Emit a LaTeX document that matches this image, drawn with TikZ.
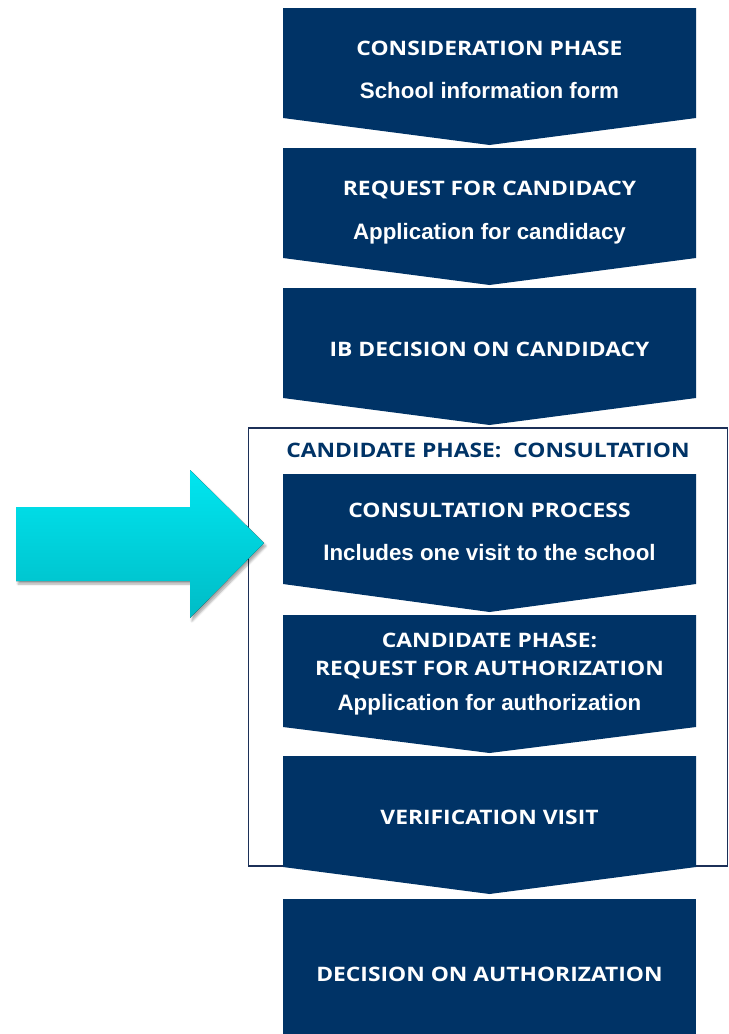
\documentclass[tikz,border=0pt]{standalone}
\usepackage{fontspec}
\setmainfont{Liberation Sans}
\newfontfamily\capsfont[FakeStretch=1.145]{Open Sans}
\usetikzlibrary{shadows.blur}
\definecolor{navy}{RGB}{0,51,102}
\definecolor{framecol}{RGB}{28,48,88}
\definecolor{cyantop}{RGB}{0,230,240}
\definecolor{cyanbot}{RGB}{0,188,198}
% chevron-shaped step: top edge, side bottom, point
\newcommand\chevbox[3]{\fill[navy] (283,#1) -- (696,#1) -- (696,#2) -- (489.5,#3) -- (283,#2) -- cycle;}
\begin{document}
\begin{tikzpicture}[x=1bp,y=-1bp,
  head/.style={font=\capsfont\bfseries\fontsize{20}{24}\selectfont, text=white, inner sep=0pt, anchor=base},
  sub/.style={font=\bfseries\fontsize{22.4}{26}\selectfont, text=white, inner sep=0pt, anchor=base},
  title/.style={font=\capsfont\bfseries\fontsize{20}{24}\selectfont, text=navy, inner sep=0pt, anchor=base}]
\useasboundingbox (0,0) rectangle (729,1034);

% frame around the candidate phase
\draw[framecol, line width=1.2bp] (248.5,428) rectangle (727.8,866);

% steps
\chevbox{8}{118}{145}
\chevbox{148}{258}{285}
\chevbox{288}{398}{425}
\chevbox{474}{584}{612}
\chevbox{615}{727}{753}
\chevbox{756}{867}{894}
\fill[navy] (283,899) rectangle (696,1034);

% labels
\node[head] (c1) at (489.5,55) {CONSIDERATION PHASE};
\node[sub]  (s1) at (489.5,98.5) {School information form};
\node[head] (c2) at (489.5,195.5) {REQUEST FOR CANDIDACY};
\node[sub]  (s2) at (489.5,239.5) {Application for candidacy};
\node[head] (c3) at (489.5,356) {IB DECISION ON CANDIDACY};
\node[title] (t) at (488,457) {CANDIDATE PHASE:\ \ CONSULTATION};
\node[head] (c4) at (489.5,517.5) {CONSULTATION PROCESS};
\node[sub]  (s4) at (489.5,560.5) {Includes one visit to the school};
\node[head] (c5a) at (489.5,647) {CANDIDATE PHASE:};
\node[head] (c5b) at (489.5,675) {REQUEST FOR AUTHORIZATION};
\node[sub]  (s5) at (489.5,710) {Application for authorization};
\node[head] (c6) at (489.5,824) {VERIFICATION VISIT};
\node[head] (c7) at (489.5,981) {DECISION ON AUTHORIZATION};

% pointer arrow
\fill[top color=cyantop, bottom color=cyanbot,
      blur shadow={shadow xshift=2bp, shadow yshift=-3bp, shadow blur steps=6, shadow opacity=35}]
  (16,507) -- (190,507) -- (190,470) -- (264,543) -- (190,618) -- (190,581) -- (16,581) -- cycle;
\end{tikzpicture}
\end{document}
